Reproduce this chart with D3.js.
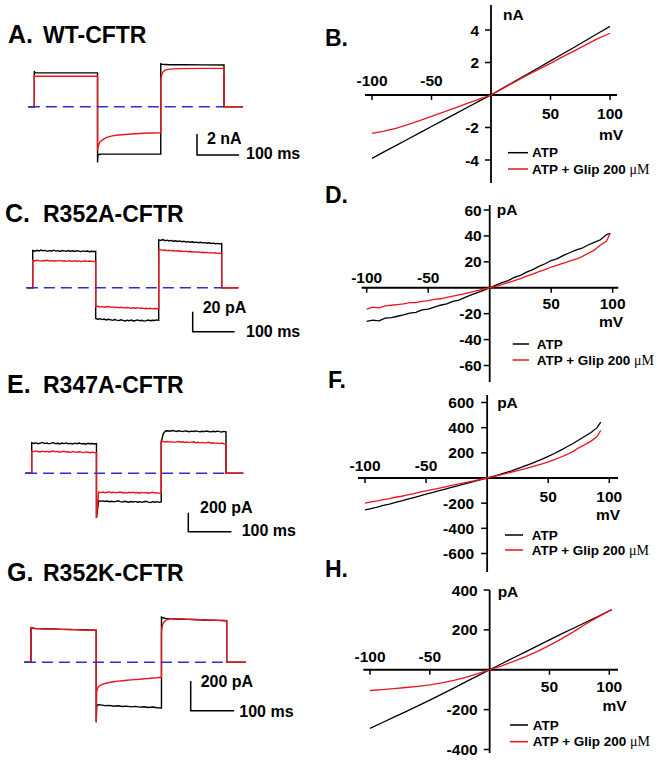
<!DOCTYPE html>
<html><head><meta charset="utf-8">
<script src="https://cdn.jsdelivr.net/npm/d3@7"></script>
<style>
body{margin:0;background:#fff}
svg{display:block}
text{font-family:Arial,'Liberation Sans',sans-serif;font-weight:bold;fill:#000}
</style>
</head><body><svg id="fig" width="657" height="761"></svg>
<script>
// ---------------- DATA ----------------
// Panel A (WT-CFTR) current traces, nA
const tA = [-15, 0, 0, 1, 150, 150, 151, 153, 156, 160, 170, 185, 200, 230, 260, 300, 300, 301, 302, 305, 310, 320, 350, 400, 450, 450, 495];
const atpA = [0, 0, 3.4, 3.25, 3.22, -5.3, -4.6, -4.55, -4.53, -4.52, -4.52, -4.52, -4.52, -4.52, -4.52, -4.52, 4.15, 4.05, 4.04, 4.03, 4.02, 4.0, 4.0, 3.98, 3.97, 0, 0];
const glipA = [0, 0, 3.0, 2.92, 2.9, -4.2, -3.9, -3.6, -3.35, -3.2, -2.95, -2.78, -2.7, -2.6, -2.53, -2.48, 2.6, 2.85, 3.0, 3.3, 3.48, 3.58, 3.63, 3.65, 3.65, 0, 0];

// Panels C and E share a 5 ms sampling grid (ms)
const tCE = [-15, 0,
  0, 5, 10, 15, 20, 25, 30, 35, 40, 45, 50, 55, 60, 65, 70, 75, 80, 85, 90, 95, 100, 105, 110, 115, 120, 125, 130, 135, 140, 145, 150,
  150, 155, 160, 165, 170, 175, 180, 185, 190, 195, 200, 205, 210, 215, 220, 225, 230, 235, 240, 245, 250, 255, 260, 265, 270, 275, 280, 285, 290, 295, 300,
  300, 305, 310, 315, 320, 325, 330, 335, 340, 345, 350, 355, 360, 365, 370, 375, 380, 385, 390, 395, 400, 405, 410, 415, 420, 425, 430, 435, 440, 445, 450,
  450, 490];

// Panel C (R352A-CFTR), pA
const atpC = [0, 0,
  37.2, 36.5, 37.4, 36.8, 37.6, 36.9, 37.3, 36.4, 37.1, 36.7, 37.5, 36.6, 37.0, 36.3, 37.2, 36.8, 36.4, 37.1, 36.5, 36.9, 36.2, 37.0, 36.6, 36.1, 36.8, 36.3, 36.7, 36.0, 36.5, 36.2, 36.4,
  -30.8, -31.5, -31.0, -31.9, -31.4, -32.2, -31.6, -32.0, -32.6, -31.8, -32.4, -32.9, -32.1, -32.7, -33.2, -32.5, -33.0, -32.4, -33.3, -32.8, -32.2, -33.1, -32.6, -33.4, -32.9, -32.3, -33.0, -32.5, -32.8, -32.2, -32.6,
  47.8, 47.2, 48.1, 47.0, 47.5, 46.8, 47.3, 46.5, 46.9, 46.2, 46.8, 46.0, 46.4, 45.7, 46.1, 45.5, 45.9, 45.2, 45.6, 45.0, 45.4, 44.8, 45.1, 44.5, 44.9, 44.2, 44.6, 44.0, 44.3, 43.8, 44.1,
  0, 0];
const glipC = [0, 0,
  27.3, 26.8, 27.5, 27.0, 26.6, 27.2, 26.9, 27.4, 26.7, 27.1, 26.5, 27.0, 26.8, 27.3, 26.6, 26.9, 26.4, 27.0, 26.7, 26.3, 26.9, 26.5, 26.8, 26.2, 26.6, 26.9, 26.3, 26.7, 26.4, 26.1, 26.5,
  -19.0, -18.6, -19.3, -18.9, -19.5, -19.1, -18.8, -19.6, -19.2, -19.8, -19.4, -20.0, -19.6, -19.9, -20.3, -19.8, -20.2, -20.6, -20.1, -20.5, -20.0, -20.7, -20.3, -20.9, -20.5, -21.0, -20.6, -21.2, -20.8, -21.1, -20.9,
  37.6, 38.0, 37.3, 37.7, 37.1, 37.4, 36.8, 37.2, 36.6, 36.9, 36.4, 36.7, 36.1, 36.5, 35.9, 36.2, 35.7, 36.0, 35.4, 35.8, 35.2, 35.5, 35.0, 35.3, 34.8, 35.1, 34.6, 34.9, 34.3, 34.6, 34.1,
  0, 0];

// Panel E (R347A-CFTR), pA
const atpE = [0, 0,
  322, 314, 320, 311, 318, 325, 313, 319, 310, 317, 322, 312, 316, 309, 318, 313, 320, 311, 315, 308, 317, 312, 319, 310, 314, 307, 316, 311, 313, 309, 312,
  -470, -288, -295, -290, -297, -292, -299, -294, -301, -296, -290, -298, -303, -295, -300, -305, -297, -302, -296, -304, -299, -306, -300, -295, -303, -308, -299, -304, -298, -306, -301,
  330, 420, 445, 448, 443, 450, 446, 441, 448, 444, 439, 446, 442, 437, 444, 440, 446, 441, 437, 443, 439, 445, 440, 436, 442, 438, 444, 439, 435, 441, 437,
  0, 0];
const glipE = [0, 0,
  234, 228, 236, 230, 225, 233, 227, 231, 224, 229, 234, 226, 230, 222, 228, 232, 224, 227, 221, 229, 225, 220, 227, 223, 218, 225, 221, 217, 223, 219, 216,
  -470, -198, -203, -197, -205, -200, -196, -204, -199, -206, -201, -197, -205, -202, -208, -200, -204, -199, -207, -203, -209, -201, -206, -202, -210, -205, -200, -208, -204, -211, -206,
  333, 336, 330, 335, 328, 333, 326, 331, 335, 327, 332, 325, 330, 323, 328, 332, 322, 327, 320, 325, 318, 323, 327, 317, 322, 315, 320, 313, 318, 311, 308,
  0, 0];

// Panel G (R352K-CFTR), pA
const tG = [-16, 0,
  0, 10, 20, 30, 40, 50, 60, 70, 80, 90, 100, 110, 120, 130, 140, 150,
  150, 151, 153, 155, 160, 170, 180, 190, 200, 210, 220, 230, 240, 250, 260, 270, 280, 290, 300,
  300, 301, 303, 305, 310, 320, 330, 340, 350, 360, 370, 380, 390, 400, 410, 420, 430, 440, 450,
  450, 494];
const atpG = [0, 0,
  232, 228, 227, 226, 225, 224, 223, 222, 222, 221, 220, 219, 219, 218, 217, 216,
  -404, -300, -288, -285, -287, -292, -290, -296, -293, -298, -295, -300, -297, -302, -299, -304, -301, -306, -308,
  305, 303, 300, 298, 296, 294, 292, 291, 290, 289, 288, 287, 286, 285, 284, 283, 282, 281, 280,
  0, 0];
const glipG = [0, 0,
  230, 227, 226, 225, 224, 223, 223, 222, 221, 220, 220, 219, 218, 217, 217, 216,
  -404, -200, -175, -165, -153, -143, -136, -131, -127, -124, -121, -118, -116, -114, -111, -109, -106, -104, -101,
  200, 232, 255, 268, 284, 293, 294, 293, 291, 290, 289, 288, 287, 285, 284, 283, 282, 281, 279,
  0, 0];

// I-V relationships (mV vs current)
const vB = [-100, -90, -80, -70, -60, -50, -40, -30, -20, -10, 0, 10, 20, 30, 40, 50, 60, 70, 80, 90, 100];
const atpB = [-3.9, -3.5, -3.12, -2.72, -2.33, -1.94, -1.55, -1.16, -0.77, -0.38, 0, 0.42, 0.84, 1.26, 1.68, 2.1, 2.52, 2.94, 3.37, 3.8, 4.22];
const glipB = [-2.36, -2.22, -2.05, -1.83, -1.58, -1.31, -1.05, -0.79, -0.52, -0.26, 0, 0.41, 0.81, 1.2, 1.58, 1.95, 2.35, 2.72, 3.1, 3.48, 3.8];

const vD = [-100, -95, -90, -85, -80, -75, -70, -65, -60, -55, -50, -45, -40, -35, -30, -25, -20, -15, -10, -5, 0, 5, 10, 15, 20, 25, 30, 35, 40, 45, 50, 55, 60, 65, 70, 75, 80, 85, 90, 95, 98];
const atpD = [-26, -25, -25.5, -23.5, -23, -22, -21, -19.5, -19, -17, -16.5, -15, -13.5, -12.5, -10.5, -9.5, -7.5, -5.5, -3.8, -2, 0, 2, 4, 5.5, 8, 9.5, 12, 14, 16.5, 18.5, 21, 22.5, 25, 27, 29, 30.5, 33, 35, 37, 41, 42];
const glipD = [-16.5, -15, -15.5, -14, -13.5, -13, -12.5, -11.5, -11.5, -10.5, -10, -9, -8.5, -7.5, -6.5, -5.5, -4.5, -3.3, -2.2, -1, 0, 1.2, 2.5, 4, 5.5, 7, 9, 10.5, 12.5, 14, 16, 17.5, 19, 20.5, 22, 24, 26.5, 29, 33, 36, 42];

const vF = [-100, -95, -90, -85, -80, -75, -70, -65, -60, -55, -50, -45, -40, -35, -30, -25, -20, -15, -10, -5, 0, 5, 10, 15, 20, 25, 30, 35, 40, 45, 50, 55, 60, 65, 70, 75, 80, 85, 90, 93];
const atpF = [-253, -243, -232, -218, -207, -193, -181, -168, -155, -143, -128, -116, -103, -90, -77, -64, -51, -38, -25, -12, 0, 13, 27, 42, 57, 74, 92, 111, 130, 150, 172, 195, 220, 246, 272, 302, 332, 362, 400, 444];
const glipF = [-200, -190, -182, -172, -164, -153, -145, -134, -124, -112, -102, -92, -82, -72, -61, -51, -41, -31, -20, -10, 0, 11, 22, 34, 46, 58, 71, 84, 98, 113, 128, 146, 165, 185, 210, 240, 265, 293, 330, 378];

const vH = [-100, -90, -80, -70, -60, -50, -40, -30, -20, -10, 0, 10, 20, 30, 40, 50, 60, 70, 80, 90, 100, 102];
const atpH = [-294, -266, -238, -210, -181, -152, -122, -92, -61, -31, 0, 30, 60, 90, 120, 150, 180, 208, 237, 266, 295, 300];
const glipH = [-104, -100, -95, -89, -83, -76, -66, -53, -38, -20, 0, 20, 42, 66, 92, 122, 155, 190, 228, 263, 295, 302];

const xTicksIV = [-100, -50, 50, 100];
const yTicksB = [-4, -2, 2, 4];
const yTicksD = [-60, -40, -20, 20, 40, 60];
const yTicksF = [-600, -400, -200, 200, 400, 600];
const yTicksH = [-400, -200, 200, 400];

const legendLabels = ["ATP", "ATP + Glip 200 "];

// ---------------- DRAWING ----------------
const RED = "#e8161e", BLACK = "#000", BLUE = "#2f2fcf";
const svg = d3.select("#fig");
svg.append("rect").attr("width", 657).attr("height", 761).attr("fill", "#fff");

function title(letter, name, x1, x2, y) {
  svg.append("text").attr("x", x1).attr("y", y).style("font-size", "25px").text(letter);
  svg.append("text").attr("x", x2).attr("y", y).style("font-size", "23px").text(name);
}

function tracePanel(p) {
  const x = d3.scaleLinear().domain([0, 450]).range(p.xr);
  const y = d3.scaleLinear().domain([0, p.barI]).range([p.y0, p.y0 - p.barPx]);
  const g = svg.append("g");
  const mk = arr => d3.line().x((d, i) => x(p.t[i])).y(d => y(d))(arr);
  g.append("path").attr("d", mk(p.atp)).attr("fill", "none").attr("stroke", BLACK).attr("stroke-width", 1.4);
  g.append("path").attr("d", mk(p.glip)).attr("fill", "none").attr("stroke", RED).attr("stroke-width", 1.4);
  g.append("line").attr("x1", x(p.zero[0])).attr("x2", x(450)).attr("y1", y(0)).attr("y2", y(0))
    .attr("stroke", BLUE).attr("stroke-width", 1.6).attr("stroke-dasharray", "11,6");
  // scale bar
  const [cx, cy] = p.corner;
  const bw = x(100) - x(0), bh = y(0) - y(p.barI);
  g.append("path").attr("d", `M${cx},${cy - bh}V${cy}H${cx + bw}`).attr("fill", "none")
    .attr("stroke", BLACK).attr("stroke-width", 1.5);
  g.append("text").attr("x", p.iLab[0]).attr("y", p.iLab[1]).style("font-size", "16px").text(p.iText);
  g.append("text").attr("x", p.tLab[0]).attr("y", p.tLab[1]).style("font-size", "16px").text("100 ms");
  title(p.letter, p.name, p.lx, 43, p.ty);
}

function ivPanel(p) {
  const x = d3.scaleLinear().domain([-100, 100]).range(p.xr);
  const y = d3.scaleLinear().domain(p.yd).range(p.yr);
  const g = svg.append("g");
  const x0 = x(0), y0 = y(0);
  g.append("line").attr("x1", p.xAx[0]).attr("x2", p.xAx[1]).attr("y1", y0).attr("y2", y0).attr("stroke", BLACK).attr("stroke-width", 1.8);
  g.append("line").attr("x1", x0).attr("x2", x0).attr("y1", p.yAx[0]).attr("y2", p.yAx[1]).attr("stroke", BLACK).attr("stroke-width", 1.8);
  xTicksIV.forEach(v => {
    g.append("line").attr("x1", x(v)).attr("x2", x(v)).attr("y1", y0).attr("y2", y0 + 5).attr("stroke", BLACK).attr("stroke-width", 1.5);
    g.append("text").attr("x", x(v)).attr("y", v < 0 ? y0 - p.upOff : y0 + p.downOff)
      .attr("text-anchor", "middle").style("font-size", "15.5px").text(v);
  });
  p.yTicks.forEach(v => {
    g.append("line").attr("x1", x0 - 6).attr("x2", x0).attr("y1", y(v)).attr("y2", y(v)).attr("stroke", BLACK).attr("stroke-width", 1.5);
    g.append("text").attr("x", x0 - p.yLabOff).attr("y", y(v)).attr("dy", "0.36em")
      .attr("text-anchor", "end").style("font-size", "15.5px").text(v);
  });
  const mk = (arr) => d3.line().x((d, i) => x(p.v[i])).y(d => y(d))(arr);
  g.append("path").attr("d", mk(p.atp)).attr("fill", "none").attr("stroke", BLACK).attr("stroke-width", 1.3);
  g.append("path").attr("d", mk(p.glip)).attr("fill", "none").attr("stroke", RED).attr("stroke-width", 1.3);
  g.append("text").attr("x", x0 + p.unitDx).attr("y", p.unitY).style("font-size", "15.5px").text(p.unit);
  g.append("text").attr("x", p.mvX).attr("y", y0 + p.mvOff).attr("text-anchor", "end").style("font-size", "15.5px").text("mV");
  // legend
  const L = p.leg;
  [[BLACK, L.y1, legendLabels[0], false], [RED, L.y2, legendLabels[1], true]].forEach(([c, yy, txt, mu]) => {
    g.append("line").attr("x1", L.x1).attr("x2", L.x2).attr("y1", yy).attr("y2", yy).attr("stroke", c).attr("stroke-width", 1.5);
    const t = g.append("text").attr("x", L.tx).attr("y", yy + 4.7).style("font-size", "13.5px").text(txt);
    if (mu) t.append("tspan").style("font-family", "'Liberation Serif','DejaVu Serif',serif").style("font-weight", "normal").style("font-size", "14px").text("\u03bcM");
  });
  g.append("text").attr("x", p.lx).attr("y", p.ly).style("font-size", "23px").text(p.letter);
}

tracePanel({ t: tA, atp: atpA, glip: glipA, xr: [34.3, 224], y0: 106.7, barI: 2, barPx: 21, zero: [-13],
  corner: [197, 155], iText: "2 nA", iLab: [207, 144], tLab: [246, 159], letter: "A.", name: "WT-CFTR", lx: 8, ty: 43 });
tracePanel({ t: tCE, atp: atpC, glip: glipC, xr: [32.7, 221.7], y0: 287.7, barI: 20, barPx: 20, zero: [-14],
  corner: [192.7, 331.7], iText: "20 pA", iLab: [202.7, 313.3], tLab: [246, 336.7], letter: "C.", name: "R352A-CFTR", lx: 5, ty: 222 });
tracePanel({ t: tCE, atp: atpE, glip: glipE, xr: [31.7, 226], y0: 473.3, barI: 200, barPx: 19, zero: [-13],
  corner: [188.3, 531.7], iText: "200 pA", iLab: [200, 512.7], tLab: [241.7, 536], letter: "E.", name: "R347A-CFTR", lx: 7, ty: 393 });
tracePanel({ t: tG, atp: atpG, glip: glipG, xr: [31, 226.7], y0: 662.3, barI: 200, barPx: 29.7, zero: [-14],
  corner: [190.7, 710.7], iText: "200 pA", iLab: [200.7, 687.3], tLab: [239.3, 716.7], letter: "G.", name: "R352K-CFTR", lx: 7, ty: 581 });

ivPanel({ v: vB, atp: atpB, glip: glipB, xr: [372, 610], yd: [-4, 4], yr: [160, 30], xAx: [365, 617], yAx: [5, 183],
  yTicks: yTicksB, yLabOff: 12, upOff: 9, downOff: 24, unit: "nA", unitDx: 12, unitY: 20, mvX: 623, mvOff: 45,
  leg: { x1: 508, x2: 528, tx: 532, y1: 152.7, y2: 169 }, letter: "B.", lx: 325, ly: 46 });
ivPanel({ v: vD, atp: atpD, glip: glipD, xr: [366.7, 612.7], yd: [-60, 60], yr: [365.5, 210], xAx: [361.7, 618.3], yAx: [205, 382],
  yTicks: yTicksD, yLabOff: 8, upOff: 5, downOff: 21.6, unit: "pA", unitDx: 7, unitY: 215, mvX: 623, mvOff: 39,
  leg: { x1: 512.7, x2: 529, tx: 536.7, y1: 344, y2: 360 }, letter: "D.", lx: 325, ly: 203 });
ivPanel({ v: vF, atp: atpF, glip: glipF, xr: [365, 609.3], yd: [-600, 600], yr: [553.5, 402.5], xAx: [358, 618], yAx: [395, 572],
  yTicks: yTicksF, yLabOff: 13, upOff: 7, downOff: 24, unit: "pA", unitDx: 10, unitY: 408, mvX: 620, mvOff: 42,
  leg: { x1: 505, x2: 523, tx: 531.7, y1: 535, y2: 550 }, letter: "F.", lx: 328, ly: 388 });
ivPanel({ v: vH, atp: atpH, glip: glipH, xr: [370, 609.3], yd: [-400, 400], yr: [749.5, 590], xAx: [363.3, 618], yAx: [590, 753],
  yTicks: yTicksH, yLabOff: 12, upOff: 7.6, downOff: 22.4, unit: "pA", unitDx: 8, unitY: 597, mvX: 626.7, mvOff: 41,
  leg: { x1: 510, x2: 528, tx: 532.7, y1: 725, y2: 741.7 }, letter: "H.", lx: 325, ly: 577 });
</script></body></html>
